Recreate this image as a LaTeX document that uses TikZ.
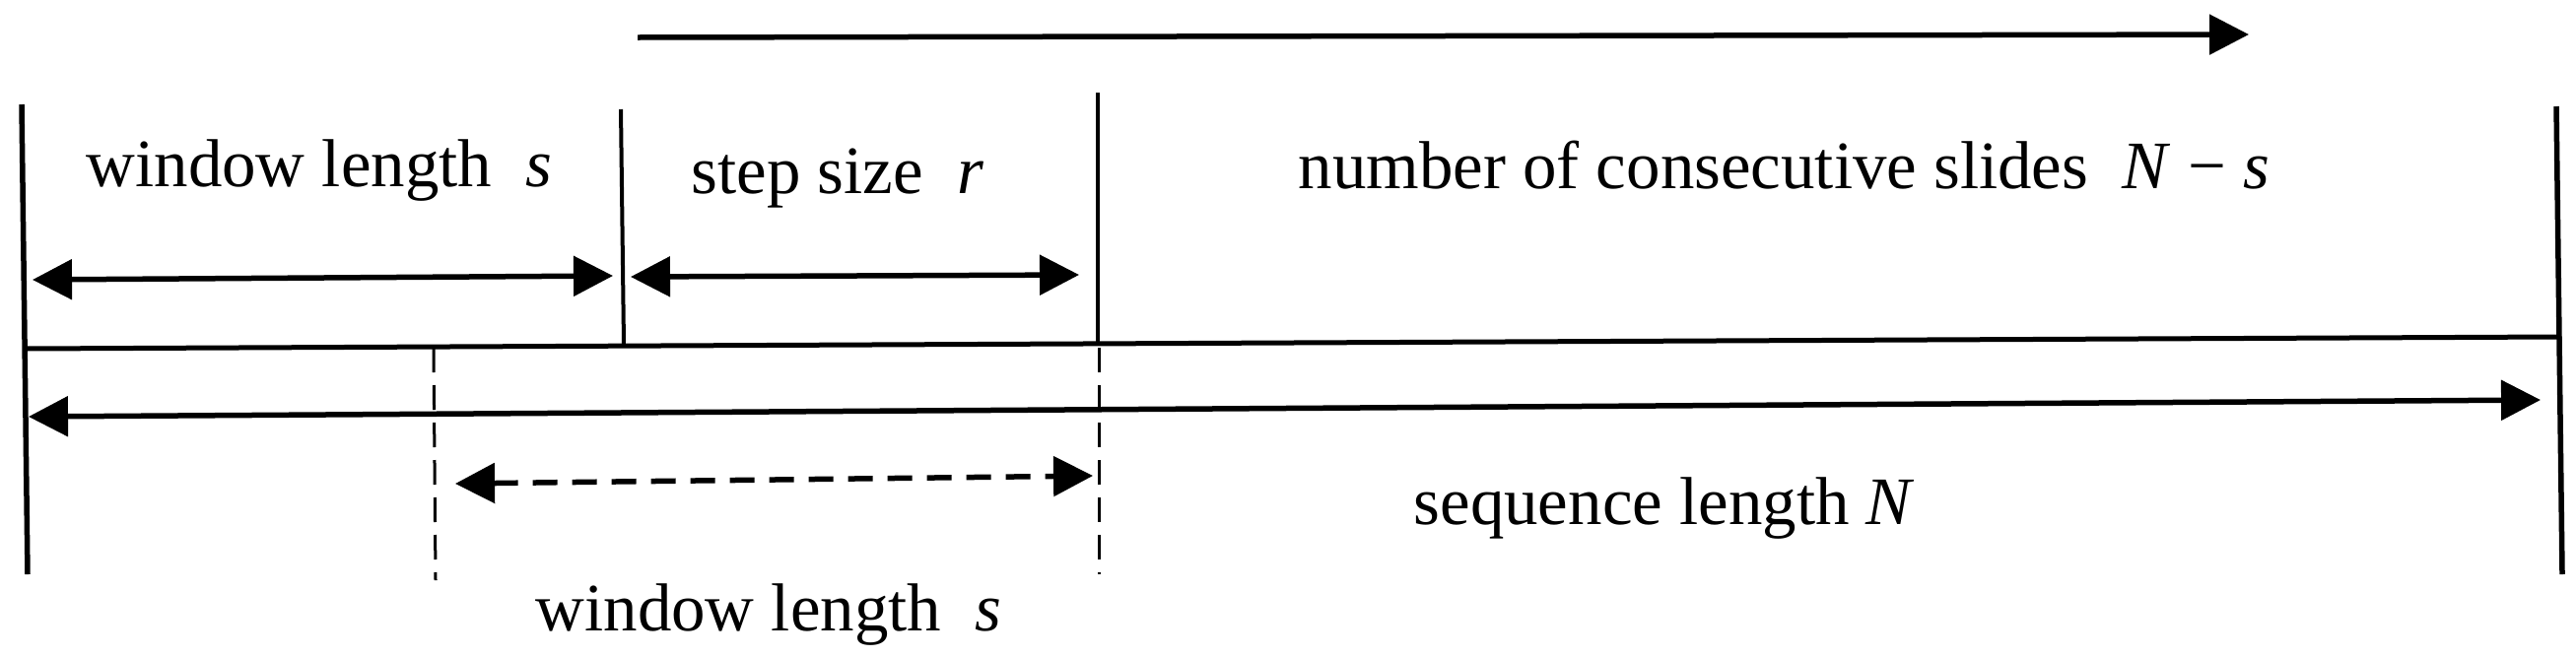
\documentclass[tikz,border=0pt]{standalone}
\usepackage{fontspec}
\setmainfont{Liberation Serif}
\usetikzlibrary{arrows.meta}
\begin{document}
\begin{tikzpicture}[x=0.1mm,y=-0.1mm,
  bar/.style={line width=0.55mm},
  hbar/.style={line width=0.5mm},
  thinbar/.style={line width=0.4mm},
  dbar/.style={line width=0.3mm, dash pattern=on 2.5mm off 1.3mm},
  darrow/.style={line width=0.55mm, {Triangle[length=4mm,width=4mm]}-{Triangle[length=4mm,width=4mm]}},
  sarrow/.style={line width=0.55mm, -{Triangle[length=4mm,width=4mm]}},
  dashedarrow/.style={darrow, dash pattern=on 2.5mm off 1.5mm},
  lbl/.style={inner sep=0pt, anchor=base west, font=\fontsize{19.6}{23}\selectfont}]
\useasboundingbox (0,0) rectangle (2614,666);
% vertical bars
\coordinate (v1t) at (22,106); \coordinate (v1b) at (28,583);
\coordinate (v2t) at (630,111); \coordinate (v2b) at (633,350);
\coordinate (v3t) at (1114,94); \coordinate (v3b) at (1114,350);
\coordinate (v4t) at (2594,108); \coordinate (v4b) at (2600,583);
\draw[bar] (v1t) -- (v1b);
\draw[thinbar] (v2t) -- (v2b);
\draw[thinbar] (v3t) -- (v3b);
\draw[bar] (v4t) -- (v4b);
% baseline
\coordinate (hl) at (26,354); \coordinate (hr) at (2596,342);
\draw[hbar] (hl) -- (hr);
% dashed verticals
\coordinate (d1t) at (440,353); \coordinate (d1b) at (442,589);
\coordinate (d2t) at (1115,353); \coordinate (d2b) at (1115,583);
\draw[dbar] (d1t) -- (d1b);
\draw[dbar] (d2t) -- (d2b);
% top arrow
\coordinate (ta1) at (647,38); \coordinate (ta2) at (2282,35);
\draw[sarrow] (ta1) -- (ta2);
% window arrow
\coordinate (a1l) at (33,284); \coordinate (a1r) at (622,280);
\draw[darrow] (a1l) -- (a1r);
% step arrow
\coordinate (a2l) at (640,281); \coordinate (a2r) at (1095,279);
\draw[darrow] (a2l) -- (a2r);
% sequence arrow
\coordinate (a3l) at (29,423); \coordinate (a3r) at (2578,406);
\draw[darrow] (a3l) -- (a3r);
% dashed window arrow
\coordinate (a4l) at (462,491); \coordinate (a4r) at (1109,483);
\draw[dashedarrow] (a4l) -- (a4r);
% labels
\node[lbl] (t1) at (87,189) {window length~~\textit{s}};
\node[lbl] (t2) at (701,196) {step size~~\textit{r}};
\node[lbl] (t3) at (1317,191) {number of consecutive slides~~\textit{N} − \textit{s}};
\node[lbl] (t4) at (1434,532) {sequence length \textit{N}};
\node[lbl] (t5) at (543,640) {window length~~\textit{s}};
\end{tikzpicture}
\end{document}
